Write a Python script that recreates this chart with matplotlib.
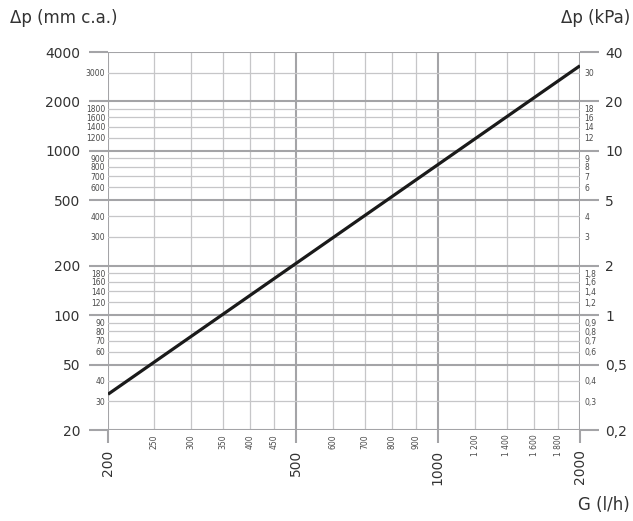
import numpy as np
import matplotlib.pyplot as plt
from matplotlib.ticker import FixedLocator, FixedFormatter

# data
flow = [200, 2000]            # G (l/h)
dp_mm = [33, 3300]            # dp (mm c.a.)

x_major = [200, 500, 1000, 2000]
x_major_lbl = ['200', '500', '1000', '2000']
x_minor = [250, 300, 350, 400, 450, 600, 700, 800, 900, 1200, 1400, 1600, 1800]
x_minor_lbl = ['250', '300', '350', '400', '450', '600', '700', '800', '900',
               '1 200', '1 400', '1 600', '1 800']

y_major = [20, 50, 100, 200, 500, 1000, 2000, 4000]
y_minor = [30, 40, 60, 70, 80, 90, 120, 140, 160, 180, 300, 400,
           600, 700, 800, 900, 1200, 1400, 1600, 1800, 3000]

k_major = [0.2, 0.5, 1, 2, 5, 10, 20, 40]
k_major_lbl = ['0,2', '0,5', '1', '2', '5', '10', '20', '40']
k_minor = [0.3, 0.4, 0.6, 0.7, 0.8, 0.9, 1.2, 1.4, 1.6, 1.8, 3, 4,
           6, 7, 8, 9, 12, 14, 16, 18, 30]
k_minor_lbl = ['0,3', '0,4', '0,6', '0,7', '0,8', '0,9', '1,2', '1,4', '1,6', '1,8',
               '3', '4', '6', '7', '8', '9', '12', '14', '16', '18', '30']

major_col = '#a4a4a7'
minor_col = '#c6c6c8'
txt_col = '#333333'
small_col = '#4a4a4a'

fig = plt.figure(figsize=(6.33, 5.21), dpi=100)
ax = fig.add_axes([108/633, 1 - 430/521, 472/633, 378/521])
ax.set_xscale('log')
ax.set_yscale('log')
ax.set_xlim(200, 2000)
ax.set_ylim(20, 4000)
for s in ax.spines.values():
    s.set_visible(False)

ax.xaxis.set_major_locator(FixedLocator(x_major))
ax.xaxis.set_major_formatter(FixedFormatter(x_major_lbl))
ax.xaxis.set_minor_locator(FixedLocator(x_minor))
ax.xaxis.set_minor_formatter(FixedFormatter(x_minor_lbl))
ax.yaxis.set_major_locator(FixedLocator(y_major))
ax.yaxis.set_major_formatter(FixedFormatter([str(v) for v in y_major]))
ax.yaxis.set_minor_locator(FixedLocator(y_minor))
ax.yaxis.set_minor_formatter(FixedFormatter([str(v) for v in y_minor]))

ax.grid(which='major', color=major_col, lw=1.5, zorder=0)
ax.grid(which='minor', color=minor_col, lw=0.9, zorder=0)

ax.tick_params(axis='y', which='major', length=14, width=1.5, color=major_col,
               pad=6, labelsize=10, labelcolor=txt_col)
ax.tick_params(axis='y', which='minor', length=0, pad=2, labelsize=5.5, labelcolor=small_col)
ax.tick_params(axis='x', which='major', length=9, width=1.5, color=major_col,
               pad=5, labelsize=10, labelcolor=txt_col, labelrotation=90)
ax.tick_params(axis='x', which='minor', length=0, pad=3, labelsize=5.5,
               labelcolor=small_col, labelrotation=90)

ax.plot(flow, dp_mm, color='#1a1a1a', lw=2.3, zorder=5, solid_capstyle='butt')

# right axis in kPa
ax2 = ax.twinx()
ax2.set_yscale('log')
ax2.set_ylim(0.2, 40)
for s in ax2.spines.values():
    s.set_visible(False)
ax2.yaxis.set_major_locator(FixedLocator(k_major))
ax2.yaxis.set_major_formatter(FixedFormatter(k_major_lbl))
ax2.yaxis.set_minor_locator(FixedLocator(k_minor))
ax2.yaxis.set_minor_formatter(FixedFormatter(k_minor_lbl))
ax2.tick_params(axis='y', which='major', length=14, width=1.5, color=major_col,
                pad=4, labelsize=10, labelcolor=txt_col)
ax2.tick_params(axis='y', which='minor', length=0, pad=3, labelsize=5.5, labelcolor=small_col)

fig.text(10/633, 1 - 18/521, 'Δp (mm c.a.)', fontsize=12, color=txt_col,
         ha='left', va='center')
fig.text(630/633, 1 - 18/521, 'Δp (kPa)', fontsize=12, color=txt_col,
         ha='right', va='center')
fig.text(630/633, 1 - 505/521, 'G (l/h)', fontsize=12, color=txt_col,
         ha='right', va='center')

fig.savefig('out.png', dpi=100)
